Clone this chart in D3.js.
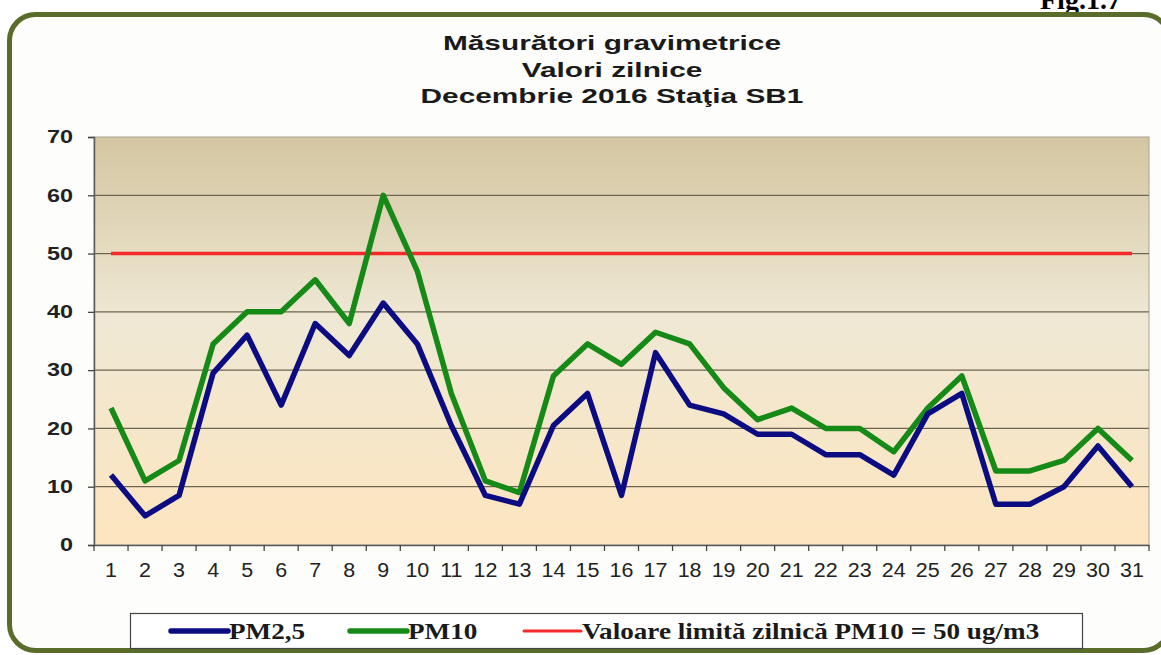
<!DOCTYPE html>
<html>
<head>
<meta charset="utf-8">
<script src="https://cdn.jsdelivr.net/npm/d3@7"></script>
<style>
  body { margin: 0; background: #fff; }
  svg { display: block; }
</style>
</head>
<body>
<svg id="chart" width="1161" height="655"></svg>
<script>
var days = d3.range(1, 32).map(String);
var pm25 = [12, 5, 8.5, 29.5, 36, 24, 38, 32.5, 41.5, 34.5, 20.5, 8.5, 7, 20.5, 26, 8.5,
	33, 24, 22.5, 19, 19, 15.5, 15.5, 12, 22.5, 26, 7, 7, 10, 17, 10];
var pm10 = [23.5, 11, 14.5, 34.5, 40, 40, 45.5, 38, 60, 47, 26, 11, 9, 29, 34.5, 31,
	36.5, 34.5, 27, 21.5, 23.5, 20, 20, 16, 23.5, 29, 12.7, 12.7, 14.5, 20, 14.5];
var limit = days.map(function () { return 50; });
var yTicks = [0, 10, 20, 30, 40, 50, 60, 70];
var titleLines = ["Măsurători gravimetrice", "Valori zilnice", "Decembrie 2016 Staţia SB1"];
var legendItems = [
	{ name: "PM2,5", color: "#0c0c82" },
	{ name: "PM10", color: "#168a16" },
	{ name: "Valoare limită zilnică PM10 = 50 ug/m3", color: "#f42a2a" }
];

var svg = d3.select("#chart");
var defs = svg.append("defs");

// the source picture is a bit wider than tall, so stretch the text sideways
function stretch(sel, k) {
	sel.each(function () {
		var w = this.getComputedTextLength();
		d3.select(this).attr("textLength", w * k).attr("lengthAdjust", "spacingAndGlyphs");
	});
}

var bg = defs.append("linearGradient").attr("id", "plotBg")
	.attr("x1", 0).attr("y1", 0).attr("x2", 0).attr("y2", 1);
bg.append("stop").attr("offset", "0%").attr("stop-color", "#d4c6a1");
bg.append("stop").attr("offset", "45%").attr("stop-color", "#efe8d4");
bg.append("stop").attr("offset", "100%").attr("stop-color", "#fde5bf");

// outer frame
svg.append("text")
	.attr("x", 1040).attr("y", 9)
	.attr("font-family", "Liberation Serif, Times New Roman, serif")
	.attr("font-weight", "bold").attr("font-size", 28)
	.text("Fig.1.7");

svg.append("rect")
	.attr("x", 9.5).attr("y", 14.5)
	.attr("width", 1160).attr("height", 636)
	.attr("rx", 26).attr("ry", 26)
	.attr("fill", "#fdfefb")
	.attr("stroke", "#5a6c2a").attr("stroke-width", 5);

var margin = { top: 137, left: 94, right: 1149, bottom: 545 };

var x = d3.scaleBand().domain(days).range([margin.left, margin.right]);
var y = d3.scaleLinear().domain([0, 70]).range([margin.bottom, margin.top]);

// title
svg.append("g").selectAll("text")
	.data(titleLines).enter().append("text")
	.attr("x", 612).attr("y", function (d, i) { return 50 + i * 26.5; })
	.attr("text-anchor", "middle")
	.attr("font-family", "Liberation Sans, Arial, sans-serif")
	.attr("font-weight", "bold").attr("font-size", 21)
	.attr("fill", "#1a1a1a")
	.text(function (d) { return d; })
	.call(stretch, 1.42);

// plot area
svg.append("rect")
	.attr("x", margin.left).attr("y", margin.top)
	.attr("width", margin.right - margin.left).attr("height", margin.bottom - margin.top)
	.attr("fill", "url(#plotBg)")
	.attr("stroke", "#a8a296").attr("stroke-width", 1);

// gridlines
svg.append("g").selectAll("line")
	.data(yTicks.filter(function (d) { return d > 0 && d < 70; }))
	.enter().append("line")
	.attr("x1", margin.left).attr("x2", margin.right)
	.attr("y1", function (d) { return y(d); }).attr("y2", function (d) { return y(d); })
	.attr("stroke", "#6e6552").attr("stroke-width", 1.3);

// y axis
var yAxis = svg.append("g")
	.attr("transform", "translate(" + margin.left + ",0)")
	.call(d3.axisLeft(y).tickValues(yTicks).tickSize(6).tickPadding(15));
yAxis.select(".domain").attr("stroke", "#5b5b5b").attr("stroke-width", 1.5);
yAxis.selectAll(".tick line").attr("stroke", "#444").attr("stroke-width", 1.3);
yAxis.selectAll("text")
	.attr("font-family", "Liberation Sans, Arial, sans-serif")
	.attr("font-weight", "bold").attr("font-size", 18).attr("fill", "#222")
	.call(stretch, 1.3);

// x axis, ticks at category edges
var xAxis = svg.append("g")
	.attr("transform", "translate(0," + margin.bottom + ")")
	.call(d3.axisBottom(x).tickSize(0));
xAxis.select(".domain").attr("stroke", "#5b5b5b").attr("stroke-width", 1.5);
xAxis.selectAll("text")
	.attr("y", 32).attr("dy", 0)
	.attr("font-family", "Liberation Sans, Arial, sans-serif")
	.attr("font-size", 19.5).attr("fill", "#222")
	.call(stretch, 1.1);
xAxis.append("g").selectAll("line")
	.data(days.concat(["end"])).enter().append("line")
	.attr("x1", function (d, i) { return margin.left + i * x.step(); })
	.attr("x2", function (d, i) { return margin.left + i * x.step(); })
	.attr("y1", 0).attr("y2", 6)
	.attr("stroke", "#444").attr("stroke-width", 1.3);

// series
function cx(d, i) { return x(days[i]) + x.bandwidth() / 2; }

var line = d3.line()
	.x(cx)
	.y(function (d) { return y(d); });

var series = [
	{ values: limit, color: legendItems[2].color, width: 3.5 },
	{ values: pm10, color: legendItems[1].color, width: 5.5 },
	{ values: pm25, color: legendItems[0].color, width: 5.5 }
];

svg.append("g").selectAll("path")
	.data(series).enter().append("path")
	.attr("d", function (d) { return line(d.values); })
	.attr("fill", "none")
	.attr("stroke", function (d) { return d.color; })
	.attr("stroke-width", function (d) { return d.width; })
	.attr("stroke-linejoin", "round");

// legend
var legend = svg.append("g");
legend.append("rect")
	.attr("x", 130.5).attr("y", 613.5)
	.attr("width", 952).attr("height", 35)
	.attr("fill", "#fff").attr("stroke", "#444").attr("stroke-width", 1.2);

var legendX = [171, 350, 524];
var leg = legend.selectAll("g.item")
	.data(legendItems).enter().append("g")
	.attr("class", "item")
	.attr("transform", function (d, i) { return "translate(" + legendX[i] + ",631)"; });
leg.append("line")
	.attr("x1", 0).attr("x2", 57)
	.attr("stroke", function (d) { return d.color; })
	.attr("stroke-width", function (d, i) { return i === 2 ? 3 : 5.5; })
	.attr("stroke-linecap", "round");
leg.append("text")
	.attr("x", 58).attr("y", 8)
	.attr("font-family", "Liberation Serif, Times New Roman, serif")
	.attr("font-weight", "bold").attr("font-size", 23)
	.attr("fill", "#1a1a1a")
	.text(function (d) { return d.name; })
	.call(stretch, 1.18);
</script>
</body>
</html>
